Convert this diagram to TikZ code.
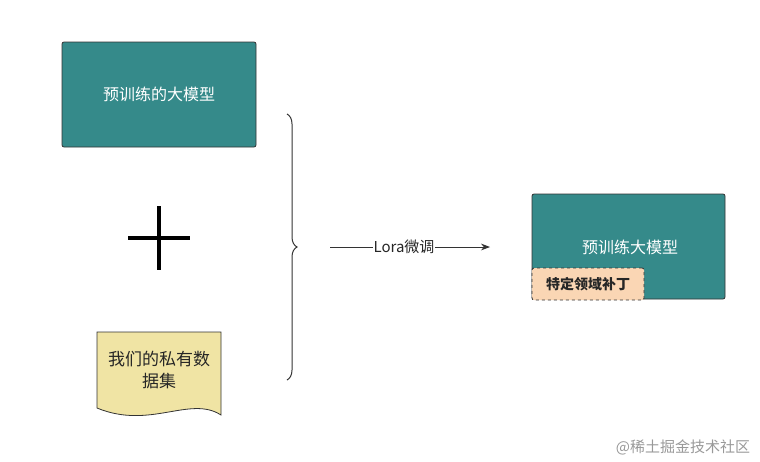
\documentclass[tikz,border=0pt]{standalone}
\usepackage{fontspec}
\setmainfont{Noto Sans CJK SC}
\usetikzlibrary{decorations.pathreplacing,arrows.meta}
\definecolor{teal1}{HTML}{358A8A}
\definecolor{doc}{HTML}{F0E4A4}
\definecolor{patch}{HTML}{FAD6B4}
\tikzset{
 model/.style={draw=black!80,fill=teal1,rounded corners=2pt,line width=0.8pt,text=white,font=\fontsize{16}{19}\selectfont,inner sep=0pt},
}
\begin{document}
\begin{tikzpicture}[x=1pt,y=-1pt]
\useasboundingbox (0,0) rectangle (760,461);
\node[model,minimum width=194pt,minimum height=105pt] (m1) at (159,94.5) {预训练的大模型};
\coordinate (pl) at (128,238); \coordinate (pr) at (190,238);
\coordinate (pt) at (159,206); \coordinate (pb) at (159,270);
\draw[line width=3.5pt] (pl) -- (pr) (pt) -- (pb);
\draw[draw=black!80,fill=doc,line width=0.8pt] (97,332) -- (221,332) -- (221,415)
  .. controls (190,395) and (150,430) .. (97,408) -- cycle;
\node[align=center,font=\fontsize{17}{22}\selectfont,text=black!85] (d) at (159,370) {我们的私有数\\据集};
\coordinate (bt) at (287,114); \coordinate (bb) at (287,380);
\draw[line width=1pt,black!80,decorate,decoration={brace,amplitude=10pt}] (bt) -- (bb);
\coordinate (as) at (330,247);
\node[model,minimum width=193pt,minimum height=105pt] (m2) at (628.5,246.5) {};
\node[text=white,font=\fontsize{16}{19}\selectfont] (t2) at (630,247) {预训练大模型};
\draw[-{Stealth[length=9pt]},black!80,line width=0.8pt] (as) -- (490,247) coordinate (ae);
\node[fill=white,inner sep=1pt,font=\fontsize{15}{18}\selectfont,text=black!85] (lab) at (404,247) {Lora微调};
\node[draw=black!80,dashed,fill=patch,rounded corners=2pt,line width=0.8pt,minimum width=112pt,minimum height=32pt,font=\fontsize{14}{16}\selectfont\bfseries,text=black!85] (p) at (588,284) {特定领域补丁};
\node[text=black!40,font=\fontsize{15}{18}\selectfont] (w) at (683,447) {@稀土掘金技术社区};
\end{tikzpicture}
\end{document}
